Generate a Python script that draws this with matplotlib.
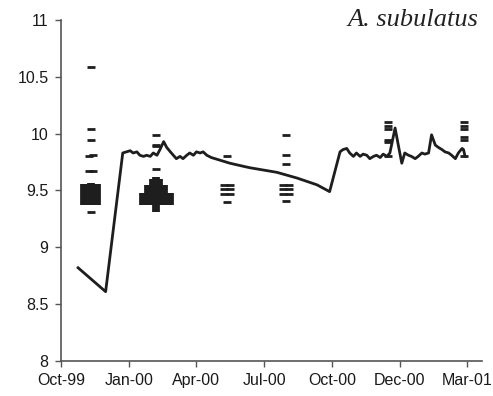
import matplotlib
matplotlib.use("Agg")
import matplotlib.pyplot as plt

# ---- data ----
x_tick_days = [0, 91, 182, 273, 364, 455, 546]
x_tick_labels = ["Oct-99", "Jan-00", "Apr-00", "Jul-00", "Oct-00", "Dec-00", "Mar-01"]
y_ticks = [8, 8.5, 9, 9.5, 10, 10.5, 11]
y_tick_labels = ["8", "8.5", "9", "9.5", "10", "10.5", "11"]

line_days = [23, 60, 83, 88, 93, 97, 102, 106, 111, 115,
             120, 124, 129, 133, 138, 142, 147, 151, 155, 160,
             164, 169, 173, 178, 182, 187, 191, 196, 202, 227,
             247, 254, 290, 317, 344, 361, 375, 379, 384, 388,
             393, 397, 402, 406, 411, 415, 420, 424, 429, 433,
             438, 442, 449, 453, 458, 462, 467, 471, 476, 480,
             485, 489, 494, 498, 503, 507, 512, 516, 521, 525,
             530, 534, 539, 541, 543]
line_vals = [8.82, 8.61, 9.83, 9.84, 9.85, 9.83, 9.84, 9.81, 9.80, 9.81,
             9.80, 9.83, 9.81, 9.86, 9.93, 9.88, 9.84, 9.81, 9.78, 9.80,
             9.78, 9.81, 9.83, 9.81, 9.84, 9.83, 9.84, 9.81, 9.79, 9.74,
             9.71, 9.70, 9.66, 9.61, 9.55, 9.49, 9.84, 9.86, 9.87, 9.83,
             9.80, 9.83, 9.80, 9.82, 9.81, 9.78, 9.80, 9.81, 9.79, 9.82,
             9.80, 9.83, 10.05, 9.91, 9.74, 9.83, 9.81, 9.80, 9.78, 9.80,
             9.83, 9.82, 9.83, 9.99, 9.90, 9.88, 9.86, 9.84, 9.83, 9.81,
             9.78, 9.83, 9.87, 9.86, 9.80]

# individual measurements (dash marks), grouped by sampling campaign
c1_days = [40, 40, 40, 37, 43, 37, 43, 40]
c1_vals = [10.59, 10.04, 9.94, 9.80, 9.81, 9.67, 9.67, 9.31]
# densely overlapping measurements: column day, lowest and highest value
c1_dense_days = [31, 40, 49]
c1_dense_low = [9.37, 9.37, 9.37]
c1_dense_high = [9.56, 9.57, 9.56]

c2_days = [128, 128, 128, 128]
c2_vals = [9.99, 9.90, 9.89, 9.69]
c2_dense_days = [110, 117, 124, 128, 132, 139, 146]
c2_dense_low = [9.37, 9.37, 9.37, 9.31, 9.37, 9.37, 9.37]
c2_dense_high = [9.48, 9.545, 9.60, 9.615, 9.60, 9.545, 9.48]

c3_days = [223, 223, 219, 227, 219, 227, 219, 227]
c3_vals = [9.80, 9.40, 9.55, 9.55, 9.51, 9.51, 9.47, 9.47]

c4_days = [302, 302, 302, 302, 298, 306, 298, 306, 298, 306]
c4_vals = [9.99, 9.81, 9.73, 9.41, 9.55, 9.55, 9.51, 9.51, 9.47, 9.47]

c5_days = [439, 439, 439, 439, 439, 439]
c5_vals = [10.10, 10.07, 10.04, 9.94, 9.93, 9.80]

c6_days = [542, 542, 542, 542, 542, 542]
c6_vals = [10.10, 10.07, 10.04, 9.97, 9.94, 9.80]

# ---- figure ----
fig = plt.figure(figsize=(4.93, 3.96), dpi=100)
ax = fig.add_axes([0.1237, 0.0884, 0.978 - 0.1237, 0.9495 - 0.0884])

dark = "#1e1e1e"
mk = dict(ls="none", marker="_", ms=5.6, mew=2.0, color=dark)

for d, v in [(c1_days, c1_vals), (c2_days, c2_vals), (c3_days, c3_vals),
             (c4_days, c4_vals), (c5_days, c5_vals), (c6_days, c6_vals)]:
    ax.plot(d, v, **mk)

for d, lo, hi in [(c1_dense_days, c1_dense_low, c1_dense_high),
                  (c2_dense_days, c2_dense_low, c2_dense_high)]:
    lc = ax.vlines(d, lo, hi, colors=dark, linewidth=5.6)
    lc.set_capstyle("butt")

ax.plot(line_days, line_vals, color=dark, lw=2.0, solid_joinstyle="round")

ax.set_xlim(0, 566)
ax.set_ylim(8, 11)
ax.set_xticks(x_tick_days)
ax.set_xticklabels(x_tick_labels)
ax.set_yticks(y_ticks)
ax.set_yticklabels(y_tick_labels)

for s in ("top", "right"):
    ax.spines[s].set_visible(False)
for s in ("left", "bottom"):
    ax.spines[s].set_color("#555555")
    ax.spines[s].set_linewidth(1.2)

ax.tick_params(axis="both", direction="out", length=4, width=1, color="#555555",
               labelsize=11.5, labelcolor="#1a1a1a")
ax.tick_params(axis="y", pad=5)
ax.tick_params(axis="x", pad=5)
for lab in ax.get_xticklabels() + ax.get_yticklabels():
    lab.set_fontfamily("Liberation Sans")

ax.text(0.99, 1.0, "A. subulatus", transform=ax.transAxes, ha="right", va="center",
        fontsize=19, fontstyle="italic", family="Liberation Serif", color="#222222")

fig.savefig("out.png", dpi=100)
